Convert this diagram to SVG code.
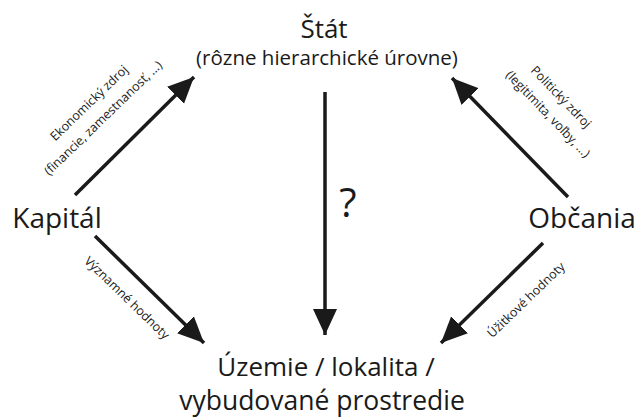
<svg xmlns="http://www.w3.org/2000/svg" width="635" height="418" viewBox="0 0 635 418">
<style>
text{font-family:"Open Sans","Noto Sans","Liberation Sans",sans-serif;fill:#1a1a1a;text-anchor:middle}
.big{font-size:28px}
.mid{font-size:20.5px}
.lab{font-size:12.5px}
.conn line{stroke:#1a1a1a;stroke-width:3.5;marker-end:url(#ah)}
</style>
<defs>
<marker id="ah" markerUnits="userSpaceOnUse" markerWidth="30" markerHeight="30" viewBox="0 0 30 30" refX="26" refY="15" orient="auto">
<path d="M0,3 L26,15 L0,27 Z" fill="#1a1a1a"/>
</marker>
</defs>
<rect width="635" height="418" fill="#fff"/>
<g id="stat">
<text x="324" y="38" style="font-size:26px">Štát</text>
<text class="mid" x="327" y="65">(rôzne hierarchické úrovne)</text>
</g>
<g id="kapital"><text class="big" x="57" y="228">Kapitál</text></g>
<g id="obcania"><text class="big" x="582" y="228">Občania</text></g>
<g id="uzemie">
<text x="326" y="376" style="font-size:26px">Územie / lokalita /</text>
<text x="322" y="410" style="font-size:26.5px">vybudované prostredie</text>
</g>
<g id="connectors" class="conn">
<line x1="75" y1="195" x2="194" y2="77"/>
<line x1="568" y1="197" x2="452" y2="78"/>
<line x1="325" y1="92" x2="325" y2="335"/>
<line x1="95" y1="236" x2="204" y2="343"/>
<line x1="543" y1="243" x2="441" y2="343"/>
</g>
<g id="labels">
<text class="lab" transform="translate(92,106) rotate(-44)">Ekonomický zdroj</text>
<text class="lab" transform="translate(106,121) rotate(-44)">(financie, zamestnanosť, ...)</text>
<text class="lab" transform="translate(558,100) rotate(46)">Politický zdroj</text>
<text class="lab" transform="translate(545,117) rotate(46)">(legitimita, voľby, ...)</text>
<text class="lab" transform="translate(124,301) rotate(44)">Významné hodnoty</text>
<text class="lab" transform="translate(529,303) rotate(-44)">Úžitkové hodnoty</text>
<text x="348" y="217" style="font-size:40px">?</text>
</g>
</svg>
